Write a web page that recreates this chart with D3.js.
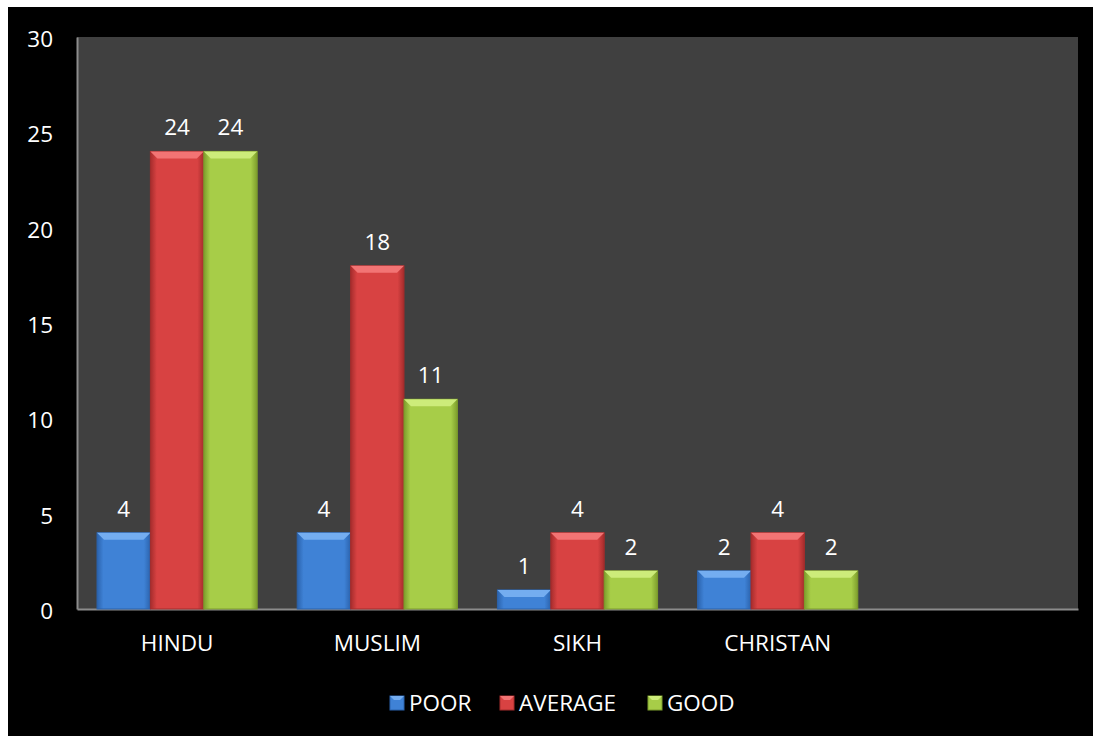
<!DOCTYPE html>
<html>
<head>
<meta charset="utf-8">
<script src="https://cdn.jsdelivr.net/npm/d3@7"></script>
<style>
  body { margin: 0; background: #fff; }
  text { font-family: "Open Sans", "Noto Sans", sans-serif; }
</style>
</head>
<body>
<div id="chart"></div>
<script>
const categories = ["HINDU", "MUSLIM", "SIKH", "CHRISTAN", ""];
const seriesNames = ["POOR", "AVERAGE", "GOOD"];
const poor = [4, 4, 1, 2];
const average = [24, 18, 4, 4];
const good = [24, 11, 2, 2];
const yTicks = [0, 5, 10, 15, 20, 25, 30];

const series = [poor, average, good];
const palette = [
  { mid: "#3f82d6", edge: "#2b63ad", top: "#74adf0" },
  { mid: "#d84242", edge: "#a52c2c", top: "#f27474" },
  { mid: "#a7cd48", edge: "#7d9d2c", top: "#cdec7a" }
];

const width = 1099;
const height = 738;
const margin = { left: 77, right: 21, top: 37, bottom: 129 };
const fontSize = "22.5px";

const svg = d3.select("#chart")
  .append("svg")
  .attr("width", width)
  .attr("height", height);

// black frame
svg.append("rect")
  .attr("x", 8).attr("y", 7)
  .attr("width", 1085).attr("height", 729)
  .attr("fill", "#000");

const x0 = d3.scaleBand()
  .domain(categories.map((d, i) => i))
  .range([margin.left, width - margin.right]);

const x1 = d3.scaleBand()
  .domain(seriesNames)
  .range([0, x0.bandwidth()])
  .paddingOuter(0.375);

const y = d3.scaleLinear()
  .domain([0, 30])
  .range([height - margin.bottom, margin.top]);

// plot area
svg.append("rect")
  .attr("x", margin.left)
  .attr("y", margin.top)
  .attr("width", width - margin.left - margin.right)
  .attr("height", y(0) - margin.top)
  .attr("fill", "#404040");

const defs = svg.append("defs");
palette.forEach((c, i) => {
  const g = defs.append("linearGradient")
    .attr("id", "grad" + i)
    .attr("x1", "0").attr("x2", "1").attr("y1", "0").attr("y2", "0");
  g.append("stop").attr("offset", "0").attr("stop-color", c.edge);
  g.append("stop").attr("offset", "0.12").attr("stop-color", c.mid);
  g.append("stop").attr("offset", "0.88").attr("stop-color", c.mid);
  g.append("stop").attr("offset", "1").attr("stop-color", c.edge);
});

// axes
const yAxis = svg.append("g")
  .attr("transform", `translate(${margin.left},0)`)
  .call(d3.axisLeft(y).tickValues(yTicks).tickSize(0).tickPadding(24));
yAxis.select(".domain").attr("stroke", "#8c8c8c").attr("stroke-width", 2);
yAxis.selectAll("text")
  .attr("fill", "#fff")
  .style("font-size", fontSize)
  .attr("dy", "0.42em");

const xAxis = svg.append("g")
  .attr("transform", `translate(0,${y(0)})`)
  .call(d3.axisBottom(x0).tickFormat(i => categories[i]).tickSize(0).tickPadding(26));
xAxis.select(".domain").attr("stroke", "#8c8c8c").attr("stroke-width", 2);
xAxis.selectAll("text")
  .attr("fill", "#fff")
  .style("font-size", fontSize);

// bars
const groups = svg.append("g")
  .selectAll("g")
  .data(categories.slice(0, 4).map((c, i) => i))
  .join("g")
  .attr("transform", i => `translate(${x0(i)},0)`);

groups.each(function(ci) {
  const g = d3.select(this);
  series.forEach((vals, si) => {
    const v = vals[ci];
    const bx = x1(seriesNames[si]);
    const bw = x1.bandwidth();
    const by = y(v);
    const bh = y(0) - y(v);
    const c = palette[si];
    g.append("rect")
      .attr("x", bx).attr("y", by)
      .attr("width", bw).attr("height", bh)
      .attr("fill", `url(#grad${si})`)
      .attr("stroke", c.edge)
      .attr("stroke-width", 1);
    const bev = Math.min(7, bh / 2);
    g.append("path")
      .attr("d", `M${bx},${by} L${bx + bw},${by} L${bx + bw - 7},${by + bev} L${bx + 7},${by + bev} Z`)
      .attr("fill", c.top);
    g.append("text")
      .attr("x", bx + bw / 2)
      .attr("y", by - 16)
      .attr("text-anchor", "middle")
      .attr("fill", "#fff")
      .style("font-size", fontSize)
      .text(v);
  });
});

// legend
const legendItems = [
  { name: "POOR", x: 390 },
  { name: "AVERAGE", x: 500 },
  { name: "GOOD", x: 648 }
];
const legend = svg.append("g")
  .selectAll("g")
  .data(legendItems)
  .join("g")
  .attr("transform", d => `translate(${d.x},696)`);
legend.append("rect")
  .attr("width", 14).attr("height", 14)
  .attr("fill", (d, i) => palette[i].mid)
  .attr("stroke", (d, i) => palette[i].edge);
legend.append("path")
  .attr("d", "M0,0 L14,0 L10,4 L4,4 Z")
  .attr("fill", (d, i) => palette[i].top);
legend.append("text")
  .attr("x", 19)
  .attr("y", 15)
  .attr("fill", "#fff")
  .style("font-size", fontSize)
  .text(d => d.name);
</script>
</body>
</html>
